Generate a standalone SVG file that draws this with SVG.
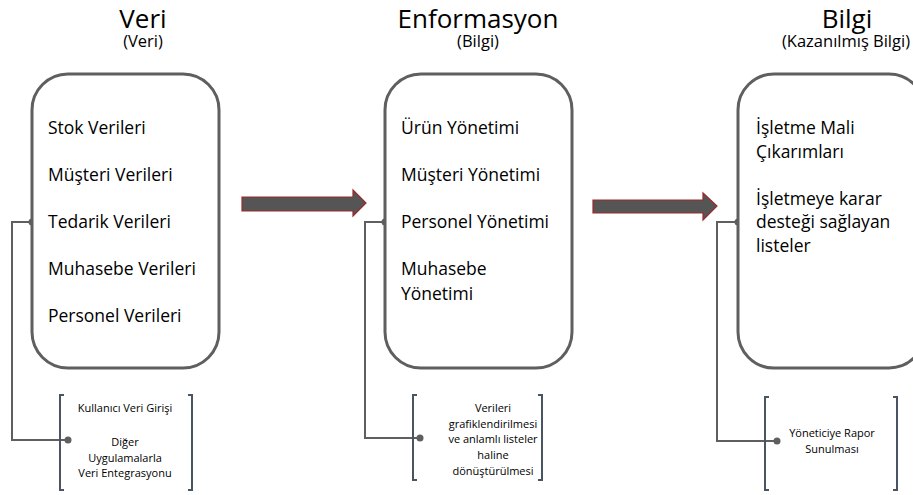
<svg xmlns="http://www.w3.org/2000/svg" width="913" height="495" viewBox="0 0 913 495">
<style>
.box{fill:#fff;stroke:#5f5f5f;stroke-width:3}
.title{font-family:"Open Sans","DejaVu Sans",sans-serif;font-size:26px;fill:#000;text-anchor:middle}
.sub{font-family:"Open Sans","DejaVu Sans",sans-serif;font-size:16.5px;fill:#000;text-anchor:middle}
.item{font-family:"Open Sans","DejaVu Sans",sans-serif;font-size:17.5px;fill:#000}
.note{font-family:"Open Sans","DejaVu Sans",sans-serif;font-size:11px;fill:#000;text-anchor:middle}
.br{fill:none;stroke:#4a5563;stroke-width:2}
.conn{fill:none;stroke:#5f5f5f;stroke-width:2}
.dot{fill:#5f5f5f}
.arrow{fill:#555;stroke:#9b2a2a;stroke-width:1.2}
</style>
<g id="title-veri"><text class="title" x="143" y="28">Veri</text><text class="sub" x="143" y="47">(Veri)</text></g>
<g id="title-enformasyon"><text class="title" x="478" y="28">Enformasyon</text><text class="sub" x="478" y="47">(Bilgi)</text></g>
<g id="title-bilgi"><text class="title" x="847" y="28">Bilgi</text><text class="sub" x="846" y="47">(Kazanılmış Bilgi)</text></g>

<g id="connectors">
<path class="conn" d="M32 222 H12 V440 H68"/>
<circle class="dot" cx="32" cy="222" r="3.5"/>
<circle class="dot" cx="68" cy="440" r="3.5"/>
<path class="conn" d="M385 222 H365 V438 H420"/>
<circle class="dot" cx="385" cy="222" r="3.5"/>
<circle class="dot" cx="420" cy="438" r="3.5"/>
<path class="conn" d="M738 222 H717 V441 H777"/>
<circle class="dot" cx="738" cy="222" r="3.5"/>
<circle class="dot" cx="777" cy="441" r="3.5"/>
<polygon class="arrow" points="242,197 353,197 353,190 366,203 353,216 353,211 242,211"/>
<polygon class="arrow" points="593,200 703,200 703,193 717,206 703,220 703,213 593,213"/>
</g>

<g id="node-veri">
<rect class="box" x="32" y="74" width="187" height="294" rx="36"/>
<text class="item" x="48" y="134">Stok Verileri</text>
<text class="item" x="48" y="181">Müşteri Verileri</text>
<text class="item" x="48" y="228">Tedarik Verileri</text>
<text class="item" x="48" y="275">Muhasebe Verileri</text>
<text class="item" x="48" y="322">Personel Verileri</text>
</g>
<g id="node-enformasyon">
<rect class="box" x="385" y="74" width="187" height="294" rx="36"/>
<text class="item" x="401" y="134">Ürün Yönetimi</text>
<text class="item" x="401" y="181">Müşteri Yönetimi</text>
<text class="item" x="401" y="228">Personel Yönetimi</text>
<text class="item" x="401" y="275">Muhasebe</text>
<text class="item" x="401" y="300">Yönetimi</text>
</g>
<g id="node-bilgi">
<rect class="box" x="738" y="74" width="187" height="294" rx="36"/>
<text class="item" x="756" y="134">İşletme Mali</text>
<text class="item" x="756" y="158">Çıkarımları</text>
<text class="item" x="756" y="205">İşletmeye karar</text>
<text class="item" x="756" y="228">desteği sağlayan</text>
<text class="item" x="756" y="252">listeler</text>
</g>

<g id="note-veri">
<path class="br" d="M64 395 H60 V490 H64 M188 395 H192 V490 H188"/>
<text class="note" x="125" y="412">Kullanıcı Veri Girişi</text>
<text class="note" x="125" y="446">Diğer</text>
<text class="note" x="125" y="462">Uygulamalarla</text>
<text class="note" x="125" y="477">Veri Entegrasyonu</text>
</g>
<g id="note-enformasyon">
<path class="br" d="M417 395 H413 V480 H417 M538 395 H542 V480 H538"/>
<text class="note" x="493" y="412">Verileri</text>
<text class="note" x="493" y="428">grafiklendirilmesi</text>
<text class="note" x="493" y="443">ve anlamlı listeler</text>
<text class="note" x="493" y="459">haline</text>
<text class="note" x="493" y="475">dönüştürülmesi</text>
</g>
<g id="note-bilgi">
<path class="br" d="M769 397 H765 V490 H769 M893 397 H897 V490 H893"/>
<text class="note" x="832" y="437">Yöneticiye Rapor</text>
<text class="note" x="832" y="453">Sunulması</text>
</g>
</svg>
